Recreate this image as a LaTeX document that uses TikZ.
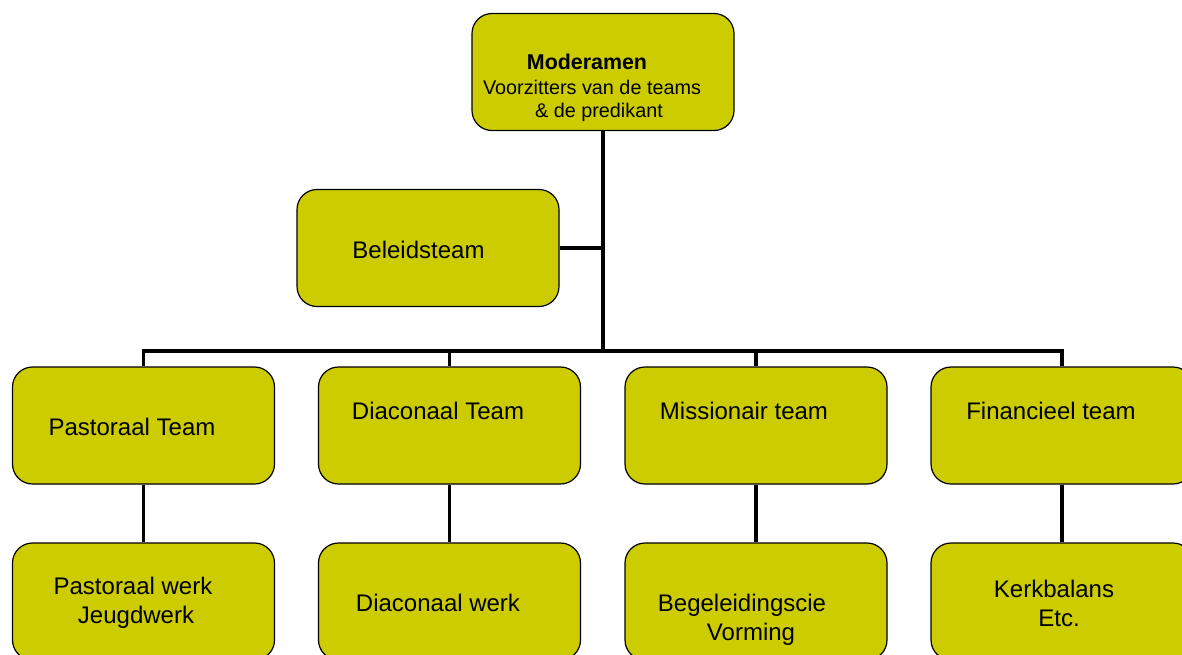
\documentclass[tikz,border=0pt]{standalone}
\usepackage{fontspec}
\setmainfont{Liberation Sans}
\usetikzlibrary{positioning}
\definecolor{teamfill}{RGB}{204,204,0}
\tikzset{team/.style={rectangle, rounded corners=20pt, draw=black, line width=1.2pt,
  fill=teamfill, minimum width=262pt, minimum height=117pt, inner sep=0pt},
label/.style={inner sep=0pt, align=center, font=\fontsize{24}{29}\selectfont},
small/.style={inner sep=0pt, align=center, font=\fontsize{19.8}{22.5}\selectfont},
title/.style={inner sep=0pt, font=\fontsize{21.4}{25}\selectfont\bfseries},
link/.style={line width=3.4pt, line join=miter}}

\begin{document}
\begin{tikzpicture}[x=1pt,y=-1pt]
  \useasboundingbox (0,0) rectangle (1182,654);
  \clip (0,0) rectangle (1182,654);

  % boxes
  \node (mod) [team] at (603,72) {};
  \node (beleid) [team] at (428,248) {};
  \node (past) [team] at (143.5,425.5) {};
  \node (diac) [team] at (449.5,425.5) {};
  \node (miss) [team] at (756,425.5) {};
  \node (fin) [team] at (1062,425.5) {};
  \node (pwerk) [team] at (143.5,601.5) {};
  \node (dwerk) [team] at (449.5,601.5) {};
  \node (begel) [team] at (756,601.5) {};
  \node (kerk) [team] at (1062,601.5) {};
  \coordinate (bus) at (0,351);

  % lines
  \draw [link] (mod.south) -- (mod.south |- bus);
  \draw [link] (beleid.east) -- (beleid.east -| mod.south);
  \draw [link] (past.north) -- (past.north |- bus) -- (fin.north |- bus) -- (fin.north);
  \draw [link] (diac.north |- bus) -- (diac.north);
  \draw [link] (miss.north |- bus) -- (miss.north);
  \draw [link] (past.south) -- (pwerk.north);
  \draw [link] (diac.south) -- (dwerk.north);
  \draw [link] (miss.south) -- (begel.north);
  \draw [link] (fin.south) -- (kerk.north);

  % texts
  \node (tmod) [title] at (587,62) {Moderamen};
  \node (tvoorz) [small] at (592,101) {Voorzitters van de teams\\ \hspace*{14pt}\& de predikant};
  \node (tbeleid) [label] at (418.5,250) {Beleidsteam};
  \node (tpast) [label] at (132,427) {Pastoraal Team};
  \node (tdiac) [label] at (438,411) {Diaconaal Team};
  \node (tmiss) [label] at (744,411) {Missionair team};
  \node (tfin) [label] at (1051,411) {Financieel team};
  \node (tpwerk) [label] at (133,603) {Pastoraal werk\\ \hspace*{6pt}Jeugdwerk};
  \node (tdwerk) [label] at (438,603) {Diaconaal werk};
  \node (tbegel) [label] at (742,620) {Begeleidingscie\\ \hspace*{18pt}Vorming};
  \node (tkerk) [label] at (1054,603) {Kerkbalans\\ \hspace*{10pt}Etc.};
\end{tikzpicture}
\end{document}
